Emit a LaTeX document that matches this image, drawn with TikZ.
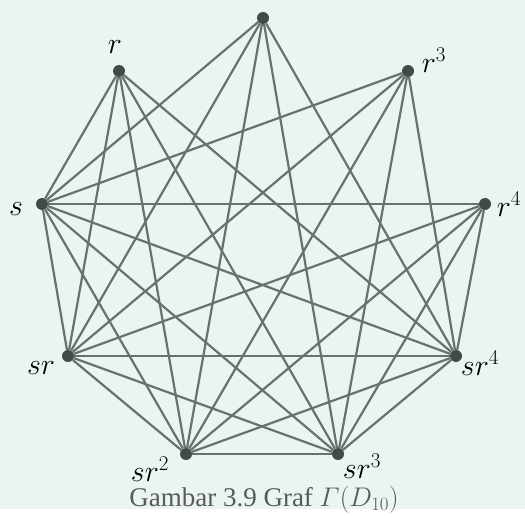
\RequirePackage{fix-cm}
\documentclass[tikz,border=0pt]{standalone}
\usepackage{amsmath}
\usepackage{fontspec}
\usepackage{xcolor}
\usepackage{tikz}
\usetikzlibrary{positioning}

\newfontfamily\capfont{Liberation Serif}
\definecolor{bgmint}{HTML}{EAF5F1}
\definecolor{edgegray}{HTML}{687170}
\definecolor{vertgray}{HTML}{404A46}

\begin{document}
\begin{tikzpicture}[
  x=1pt, y=-1pt,
  vert/.style={circle, fill=vertgray, inner sep=0pt, minimum size=12pt},
  lab/.style={inner sep=0pt, font=\fontsize{30}{32}\selectfont},
  link/.style={draw=edgegray, line width=2.2pt},
]
  \fill[bgmint] (0,0) rectangle (525,509);

  % rotations
  \node[vert] (r2) at (263,18) {};
  \node[vert] (r1) at (119,71) {};
  \node[vert] (r3) at (408,71) {};
  \node[vert] (r4) at (485,204) {};
  % reflections
  \node[vert] (s0) at (42,204) {};
  \node[vert] (s1) at (68,356) {};
  \node[vert] (s2) at (186,454) {};
  \node[vert] (s3) at (338,454) {};
  \node[vert] (s4) at (456,356) {};

  \node[lab] (lr1) at (115,47) {$r$};
  \node[lab] (lr3) at (434,60) {$r^3$};
  \node[lab] (lr4) at (509,204) {$r^4$};
  \node[lab] (ls0) at (16,209) {$s$};
  \node[lab] (ls1) at (41,368) {$sr$};
  \node[lab] (ls4) at (480,363) {$sr^4$};
  \node[lab] (ls2) at (150,469) {$sr^2$};
  \node[lab] (ls3) at (362,466) {$sr^3$};

  % rotation -- reflection
  \foreach \a in {r1,r2,r3,r4}
    \foreach \b in {s0,s1,s2,s3,s4}
      \draw[link] (\a) -- (\b);
  % reflection -- reflection
  \foreach \a/\b in {s0/s1,s0/s2,s0/s3,s0/s4,s1/s2,s1/s3,s1/s4,s2/s3,s2/s4,s3/s4}
    \draw[link] (\a) -- (\b);

  \node[anchor=base, text=black!65, font=\capfont\fontsize{27}{30}\selectfont]
    (cap) at (264,506) {Gambar 3.9 Graf $\varGamma(D_{10})$};
\end{tikzpicture}
\end{document}
